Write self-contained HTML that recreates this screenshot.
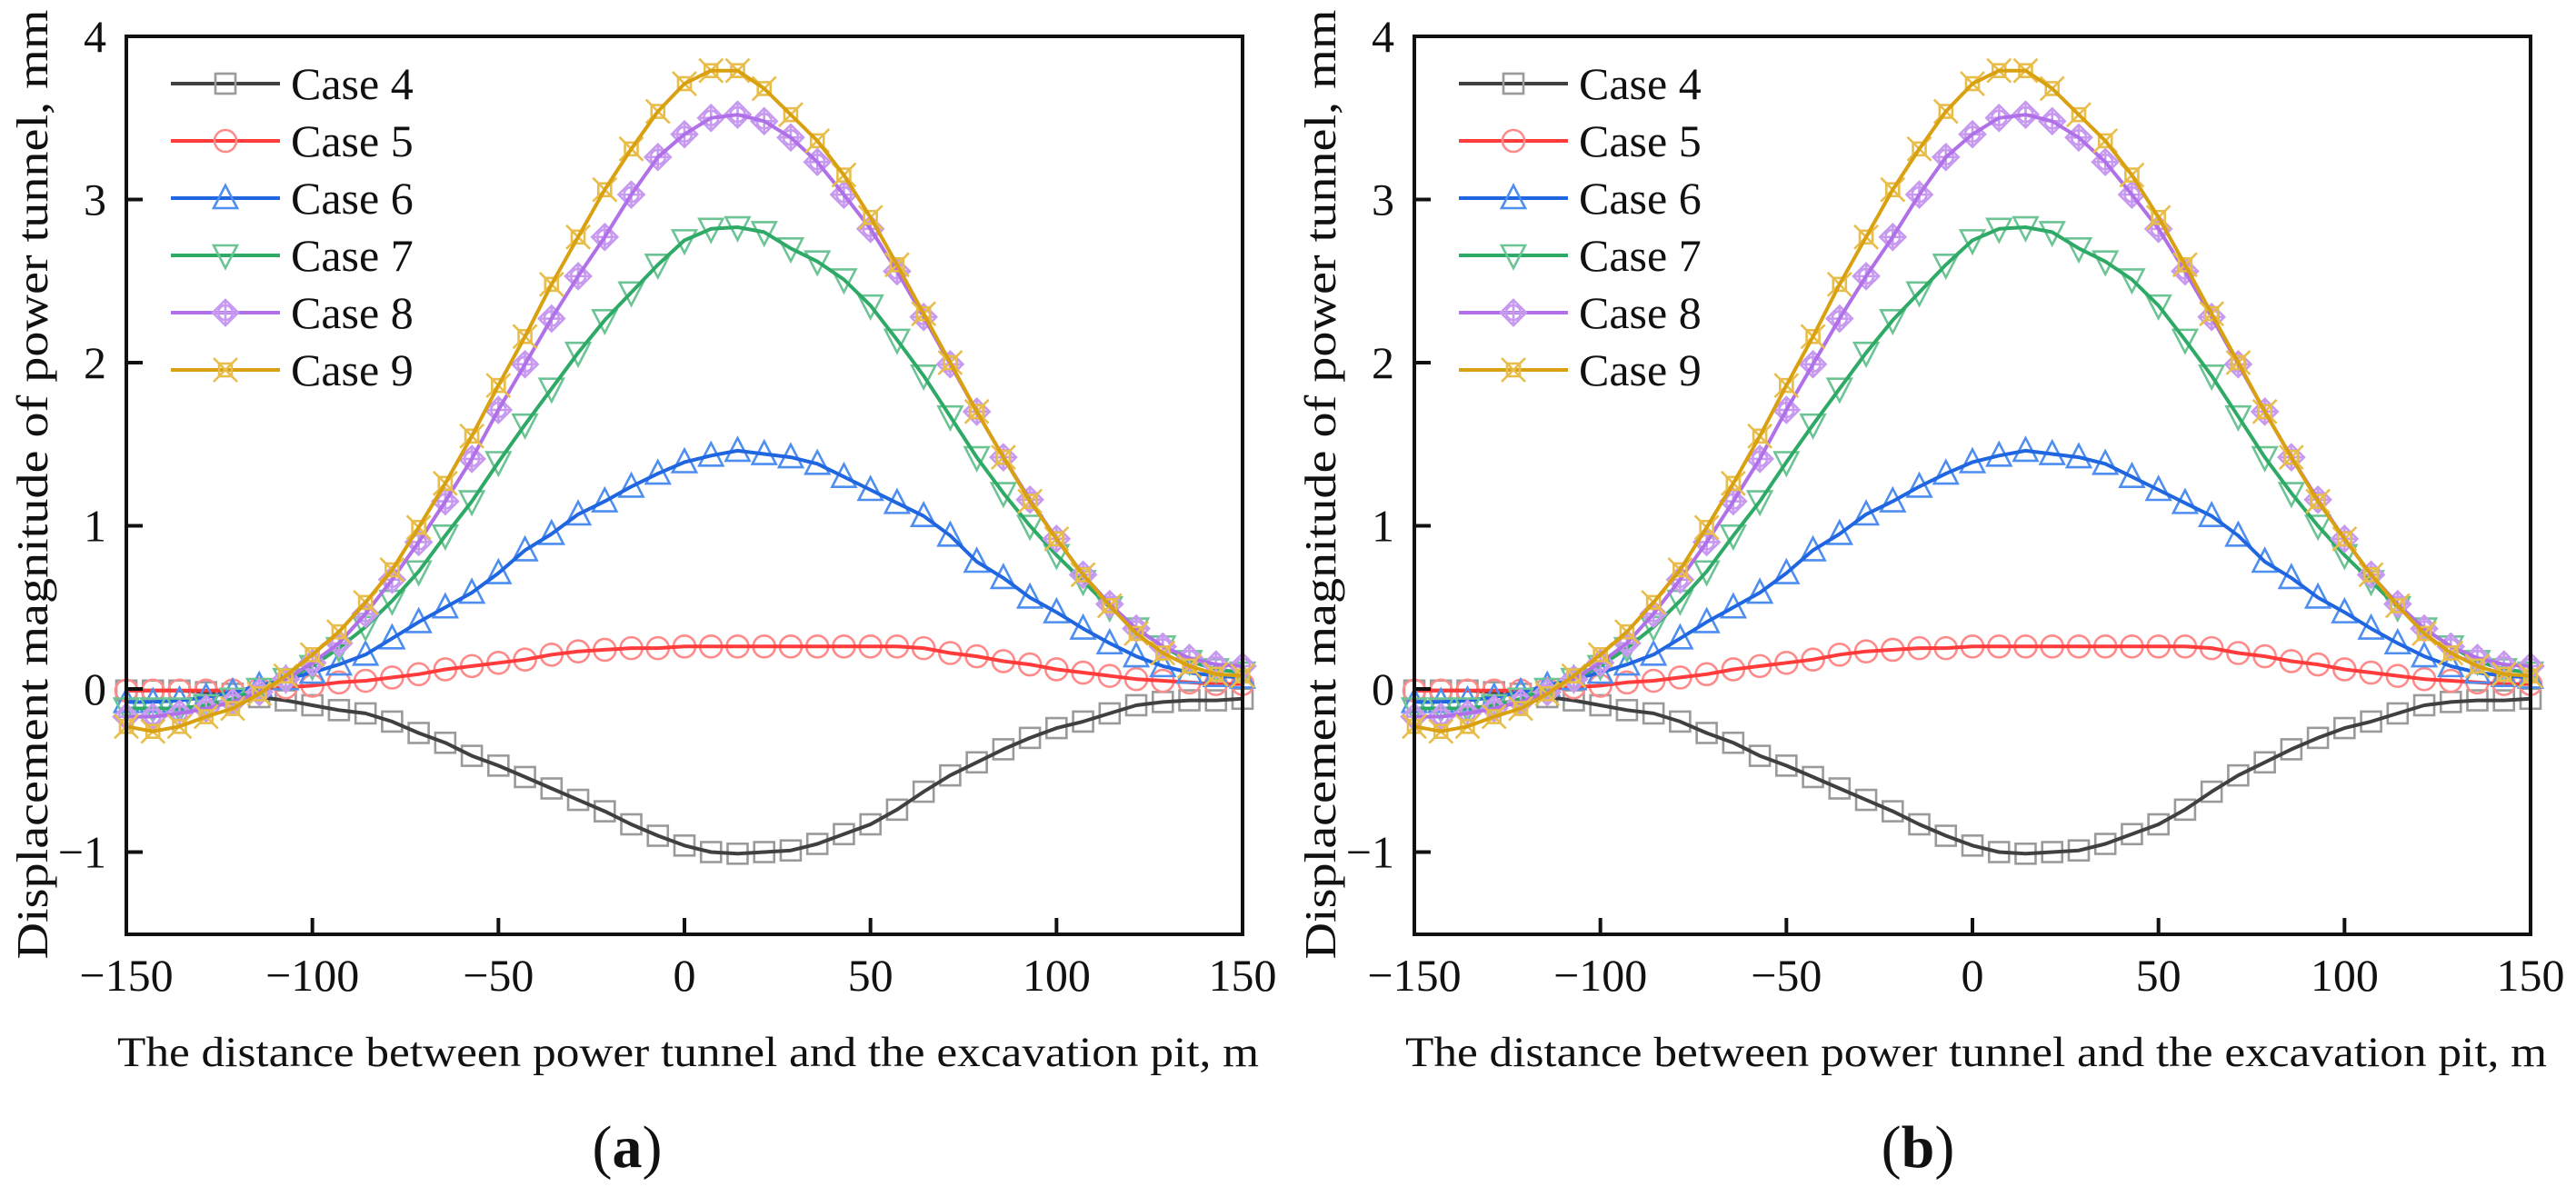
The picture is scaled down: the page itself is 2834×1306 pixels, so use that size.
<!DOCTYPE html>
<html><head><meta charset="utf-8">
<style>
html,body{margin:0;padding:0;background:#fff;}
svg{display:block;font-family:"Liberation Serif","Times New Roman",serif;}
text{font-family:"Liberation Serif","Times New Roman",serif;fill:#111;}
</style></head>
<body>
<svg id="fig" width="2834" height="1306" viewBox="0 0 2834 1306" font-family="Liberation Serif, serif" xmlns="http://www.w3.org/2000/svg"></svg>
<script>
const xStart = -150, xEnd = 150, nPts = 43;
const xTicks = [-150, -100, -50, 0, 50, 100, 150];
const xTickLabels = ["\u2212150", "\u2212100", "\u221250", "0", "50", "100", "150"];
const yTicks = [-1, 0, 1, 2, 3, 4];
const yTickLabels = ["\u22121", "0", "1", "2", "3", "4"];
const seriesNames = ["Case 4", "Case 5", "Case 6", "Case 7", "Case 8", "Case 9"];
const case4 = [-0.01,-0.01,-0.01,-0.02,-0.03,-0.05,-0.07,-0.10,-0.13,-0.15,-0.20,-0.27,-0.33,-0.41,-0.47,-0.54,-0.61,-0.68,-0.75,-0.83,-0.90,-0.96,-1.00,-1.01,-1.00,-0.99,-0.95,-0.89,-0.83,-0.74,-0.63,-0.53,-0.45,-0.37,-0.30,-0.24,-0.20,-0.15,-0.10,-0.08,-0.07,-0.07,-0.06];
const case5 = [-0.01,-0.01,-0.01,-0.01,-0.01,0.0,0.01,0.02,0.04,0.05,0.07,0.09,0.12,0.14,0.16,0.18,0.21,0.23,0.24,0.25,0.25,0.26,0.26,0.26,0.26,0.26,0.26,0.26,0.26,0.26,0.25,0.22,0.20,0.17,0.15,0.12,0.10,0.08,0.06,0.05,0.04,0.03,0.03];
const case6 = [-0.08,-0.08,-0.07,-0.05,-0.02,0.02,0.06,0.10,0.15,0.21,0.31,0.41,0.50,0.59,0.71,0.85,0.95,1.07,1.15,1.24,1.32,1.39,1.43,1.46,1.44,1.42,1.38,1.30,1.22,1.14,1.06,0.94,0.78,0.68,0.56,0.47,0.37,0.28,0.20,0.14,0.10,0.08,0.07];
const case7 = [-0.12,-0.12,-0.12,-0.10,-0.06,0.0,0.06,0.14,0.25,0.38,0.54,0.72,0.94,1.15,1.39,1.62,1.84,2.06,2.26,2.43,2.60,2.75,2.82,2.83,2.80,2.70,2.62,2.51,2.35,2.14,1.92,1.67,1.42,1.20,1.00,0.82,0.66,0.50,0.37,0.26,0.17,0.12,0.10];
const case8 = [-0.17,-0.17,-0.15,-0.12,-0.08,-0.02,0.06,0.16,0.28,0.46,0.67,0.90,1.15,1.41,1.71,1.99,2.27,2.53,2.77,3.03,3.26,3.40,3.50,3.52,3.48,3.38,3.23,3.03,2.82,2.56,2.28,1.99,1.70,1.42,1.16,0.92,0.70,0.52,0.37,0.26,0.19,0.15,0.14];
const case9 = [-0.23,-0.26,-0.23,-0.17,-0.12,-0.03,0.08,0.21,0.35,0.53,0.73,0.99,1.26,1.55,1.86,2.16,2.48,2.77,3.06,3.31,3.54,3.71,3.79,3.79,3.68,3.52,3.36,3.15,2.89,2.60,2.30,2.00,1.70,1.42,1.15,0.92,0.70,0.51,0.34,0.22,0.14,0.09,0.08];
const allSeries = [case4, case5, case6, case7, case8, case9];

const NS = "http://www.w3.org/2000/svg";
const svg = document.getElementById("fig");
const lineCol = ["#404040", "#ff3b3b", "#1f66e0", "#2eaa66", "#b070e8", "#d9a010"];
const mkCol = ["#9a9a9a", "#ff8a8a", "#4d8ef0", "#6cc494", "#c79af0", "#e8bd4a"];
const mkType = ["square", "circle", "up", "down", "diamond", "xstar"];
const slug = ["case-4", "case-5", "case-6", "case-7", "case-8", "case-9"];
const FONT = '"Liberation Serif", "Times New Roman", serif';

function el(tag, attrs, parent) {
  const e = document.createElementNS(NS, tag);
  for (const k in attrs) e.setAttribute(k, attrs[k]);
  if (tag === "text") e.setAttribute("font-family", FONT);
  parent.appendChild(e);
  return e;
}

function marker(g, type, cx, cy, col) {
  const s = 11;
  const st = {fill: "none", stroke: col, "stroke-width": 2.6};
  if (type === "square") el("rect", Object.assign({x: cx - s, y: cy - s, width: 2 * s, height: 2 * s}, st), g);
  else if (type === "circle") el("circle", Object.assign({cx: cx, cy: cy, r: s + 1}, st), g);
  else if (type === "up") el("polygon", Object.assign({points: `${cx},${cy - s - 3} ${cx + s + 2},${cy + s} ${cx - s - 2},${cy + s}`}, st), g);
  else if (type === "down") el("polygon", Object.assign({points: `${cx},${cy + s + 3} ${cx + s + 2},${cy - s} ${cx - s - 2},${cy - s}`}, st), g);
  else if (type === "diamond") {
    el("polygon", Object.assign({points: `${cx},${cy - s - 3} ${cx + s + 3},${cy} ${cx},${cy + s + 3} ${cx - s - 3},${cy}`}, st), g);
    el("circle", Object.assign({cx: cx, cy: cy, r: 8}, st), g);
    el("path", Object.assign({d: `M${cx - s - 3},${cy}H${cx + s + 3}M${cx},${cy - s - 3}V${cy + s + 3}`}, st), g);
  } else {
    el("path", Object.assign({d: `M${cx - s - 2},${cy - s - 2}L${cx + s + 2},${cy + s + 2}M${cx + s + 2},${cy - s - 2}L${cx - s - 2},${cy + s + 2}`}, st), g);
    el("rect", Object.assign({x: cx - 7, y: cy - 7, width: 14, height: 14}, st), g);
  }
}

function drawChart(L, panelLabel, labelX) {
  const R = L + 1228, T = 40, B = 1028;
  const xs = v => L + (v - xStart) / (xEnd - xStart) * (R - L);
  const ys = v => 758 - v * 179.5;
  const g = el("g", {}, svg);
  
  
  const step = (xEnd - xStart) / (nPts - 1);

  allSeries.forEach((arr, si) => {
    const sg = el("g", {}, g);
    
    
    const mg = el("g", {}, sg);
    
    
    arr.forEach((v, i) => marker(mg, mkType[si], xs(xStart + i * step), ys(v), mkCol[si]));
    let d = "";
    arr.forEach((v, i) => { d += (i ? "L" : "M") + xs(xStart + i * step).toFixed(1) + "," + ys(v).toFixed(1); });
    const p = el("path", {d: d, fill: "none", stroke: lineCol[si], "stroke-width": 4, "stroke-linejoin": "round"}, sg);
    
    
  });

  const frame = el("rect", {x: L, y: T, width: R - L, height: B - T, fill: "none", stroke: "#111", "stroke-width": 4}, g);
  
  

  xTicks.forEach((v, i) => {
    const x = xs(v);
    el("line", {x1: x, y1: B, x2: x, y2: B - 18, stroke: "#111", "stroke-width": 4}, g);
    const t = el("text", {x: x, y: 1090, "font-size": 50, "text-anchor": "middle"}, g);
    t.textContent = xTickLabels[i];
    
    
  });
  yTicks.forEach((v, i) => {
    const y = ys(v);
    el("line", {x1: L, y1: y, x2: L + 18, y2: y, stroke: "#111", "stroke-width": 4}, g);
    const t = el("text", {x: L - 22, y: y + 17, "font-size": 50, "text-anchor": "end"}, g);
    t.textContent = yTickLabels[i];
    
    
  });

  const xt = el("text", {x: L - 10, y: 1173, "font-size": 47, textLength: 1256, lengthAdjust: "spacingAndGlyphs"}, g);
  xt.textContent = "The distance between power tunnel and the excavation pit, m";
  
  
  const yx = L - 87, yc = 533;
  const yt = el("text", {x: yx, y: yc, "font-size": 49, "text-anchor": "middle", textLength: 1045, lengthAdjust: "spacingAndGlyphs", transform: `rotate(-90 ${yx} ${yc})`}, g);
  yt.textContent = "Displacement magnitude of power tunnel, mm";
  
  

  const lg = el("g", {}, g);
  
  
  seriesNames.forEach((nm, si) => {
    const y = 92 + si * 63;
    const eg = el("g", {}, lg);
    
    
    el("line", {x1: L + 49, y1: y, x2: L + 169, y2: y, stroke: lineCol[si], "stroke-width": 4}, eg);
    marker(eg, mkType[si], L + 109, y, mkCol[si]);
    const t = el("text", {x: L + 181, y: y + 17, "font-size": 50}, eg);
    t.textContent = nm;
  });

  const pl = el("text", {x: labelX, y: 1284, "font-size": 66, "text-anchor": "middle"}, g);
  pl.innerHTML = '(<tspan font-weight="bold">' + panelLabel + '</tspan>)';
  
  
}

drawChart(139, "a", 690);
drawChart(1556, "b", 2110);
</script>
</body></html>
